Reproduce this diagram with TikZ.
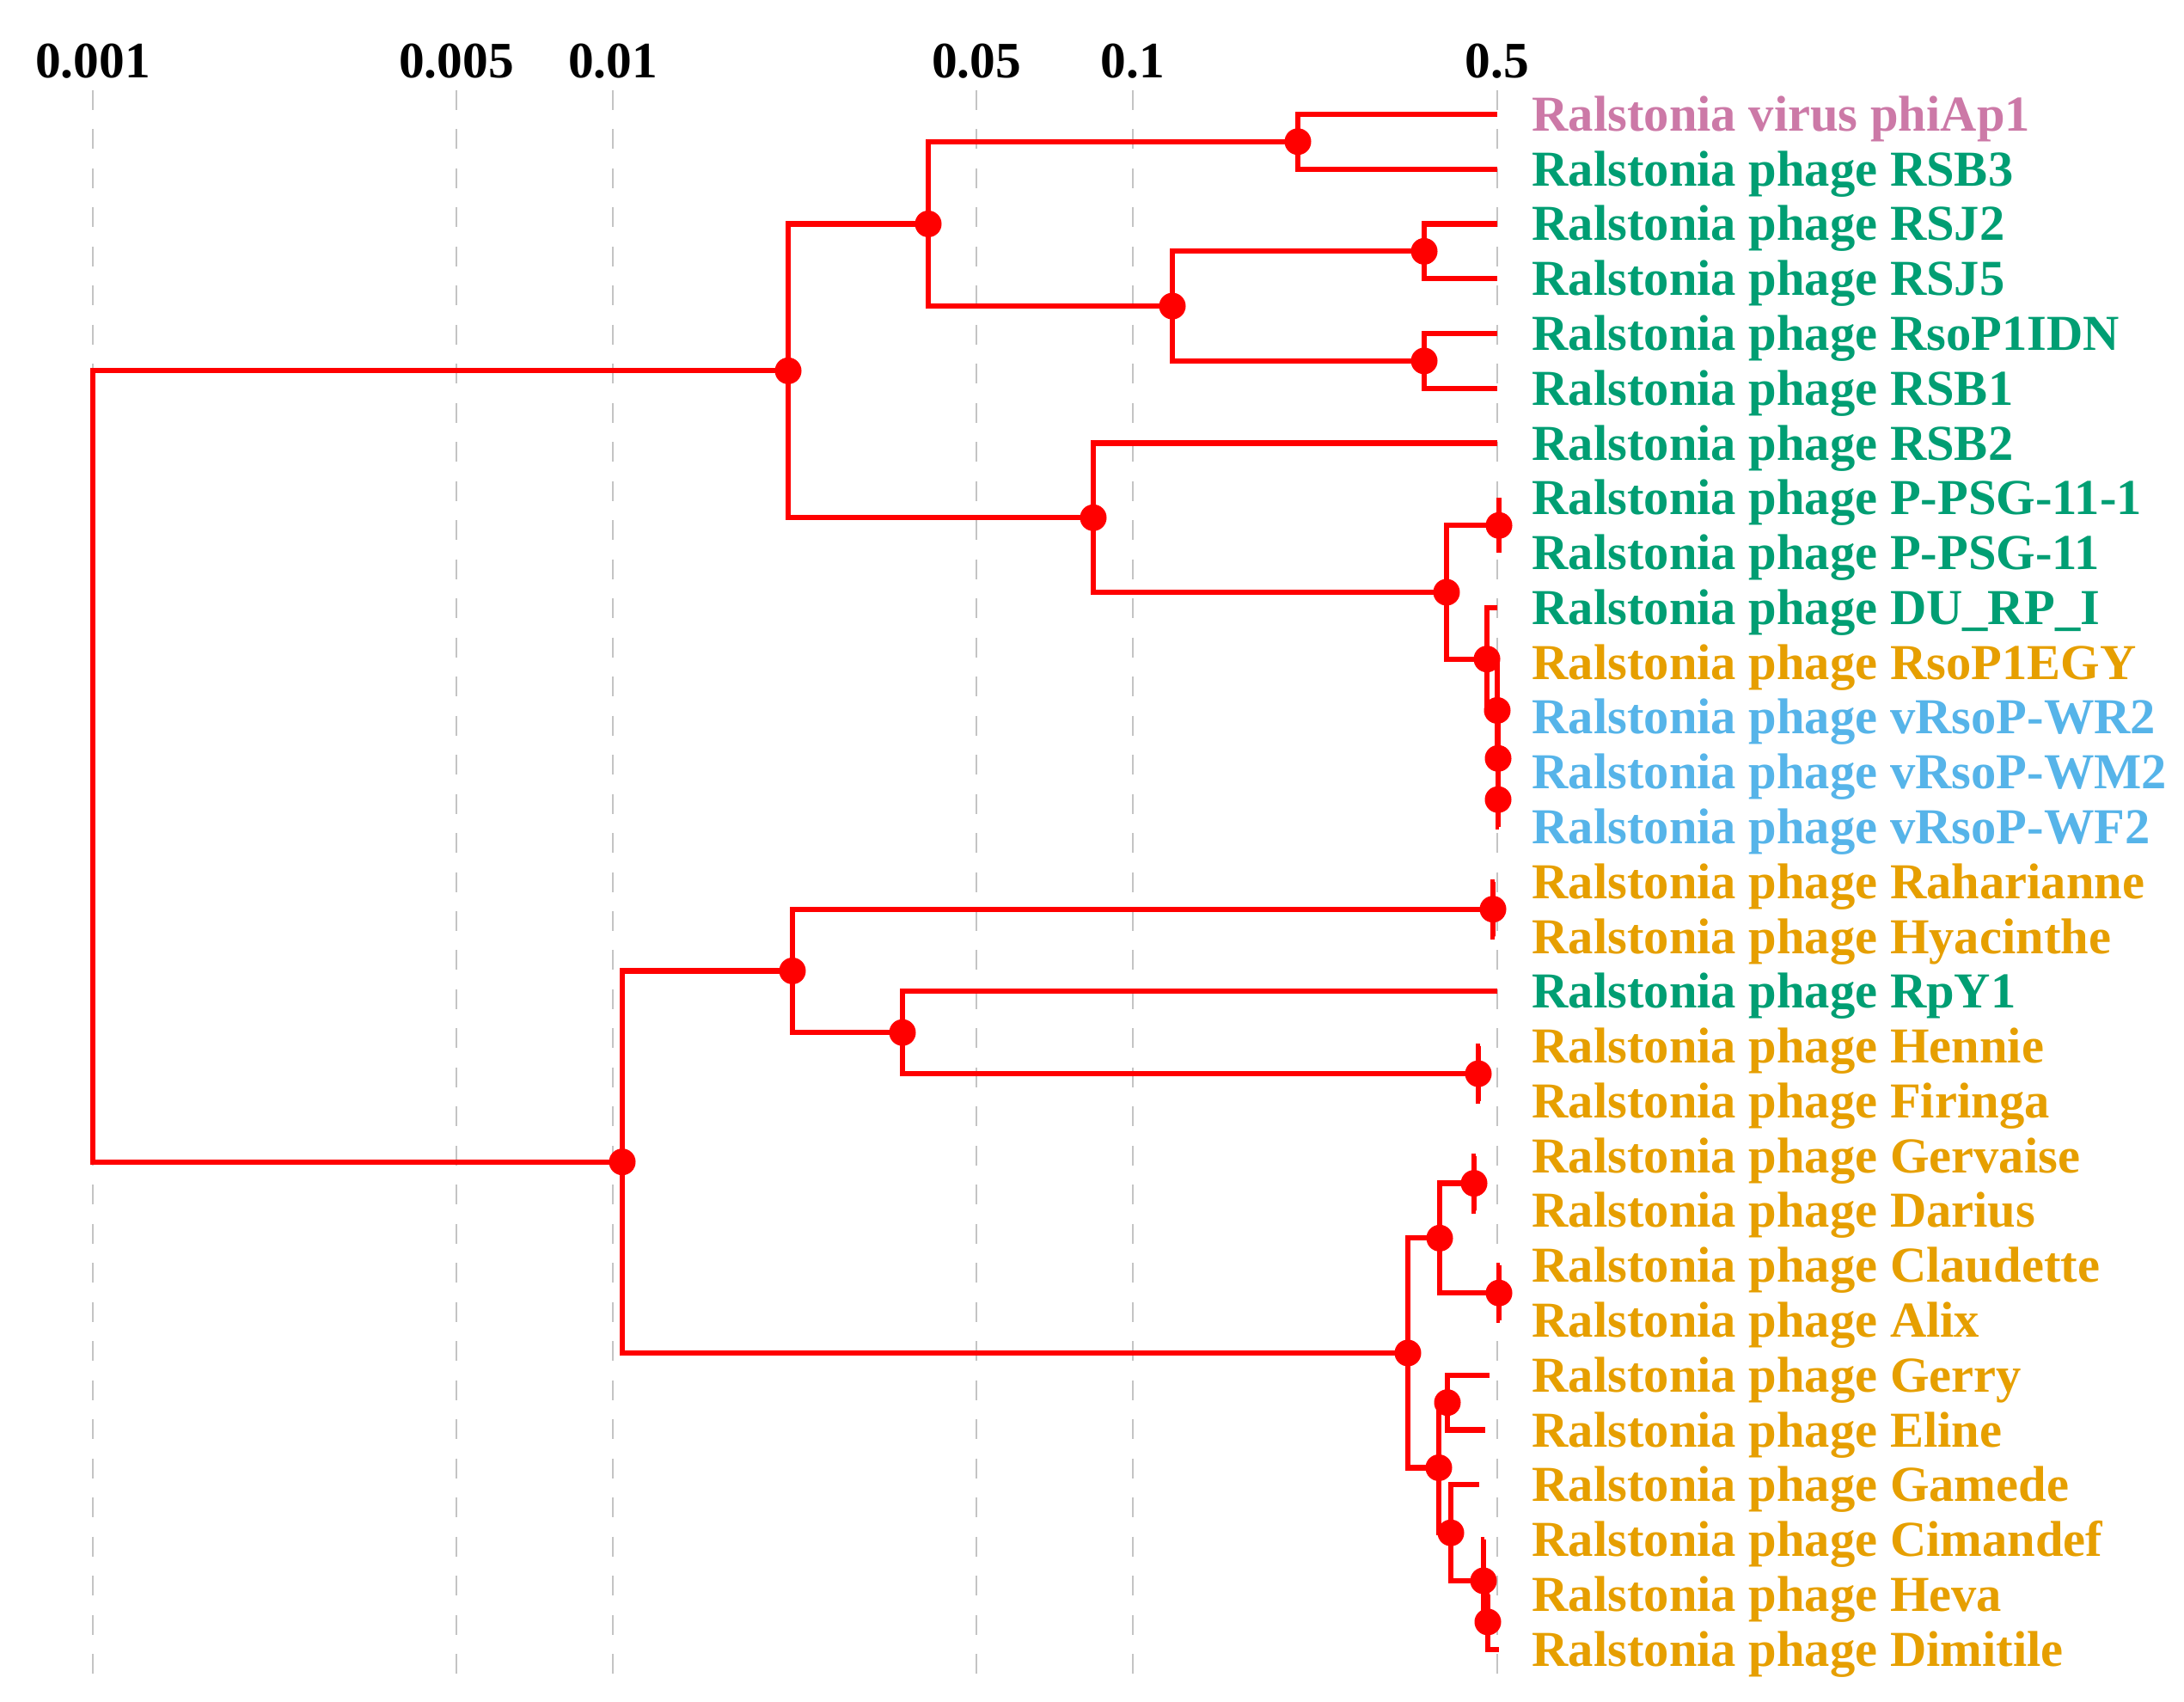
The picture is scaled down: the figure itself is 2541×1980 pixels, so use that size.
\documentclass[tikz,border=0pt]{standalone}
\usepackage{fontspec}
\setmainfont{Liberation Serif}
\definecolor{cpink}{HTML}{CC79A7}
\definecolor{cgreen}{HTML}{009E73}
\definecolor{corange}{HTML}{E69F00}
\definecolor{cblue}{HTML}{56B4E9}
\definecolor{cred}{HTML}{FF0000}
\definecolor{cgrid}{HTML}{C4C4C4}
\newcommand\leafat[5]{%
  \coordinate (#1) at (#2,#3);
  \node[lab,text=#4] (t#1) at (1782,#3+19.5) {#5};
}
\begin{document}
\begin{tikzpicture}[x=0.01cm,y=-0.01cm,
  lab/.style={anchor=base west,inner sep=0pt,font=\fontsize{16.65}{18}\selectfont\bfseries},
  axlab/.style={anchor=base,inner sep=0pt,font=\fontsize{16.9}{18}\selectfont\bfseries},
  gridline/.style={draw=cgrid,line width=0.025cm,dash pattern=on 0.23cm off 0.2245cm},
  branch/.style={draw=cred,line width=0.062cm},
  dot/.style={circle,fill=cred,inner sep=0pt,minimum size=0.31cm}]
\useasboundingbox (0,0) rectangle (2541,1980);
% axis
\foreach \xx/\lab/\nm in {108/0.001/a1,531/0.005/a2,713/0.01/a3,1136/0.05/a4,1318/0.1/a5,1742/0.5/a6}{
  \node[axlab] (\nm) at (\xx,91) {\lab};
  \draw[gridline] (\xx,105) -- (\xx,1947);
}
% leaves
\leafat{l1}{1742}{132.9}{cpink}{Ralstonia virus phiAp1}
\leafat{l2}{1742}{196.7}{cgreen}{Ralstonia phage RSB3}
\leafat{l3}{1742}{260.5}{cgreen}{Ralstonia phage RSJ2}
\leafat{l4}{1742}{324.2}{cgreen}{Ralstonia phage RSJ5}
\leafat{l5}{1742}{388.0}{cgreen}{Ralstonia phage RsoP1IDN}
\leafat{l6}{1742}{451.8}{cgreen}{Ralstonia phage RSB1}
\leafat{l7}{1742}{515.6}{cgreen}{Ralstonia phage RSB2}
\leafat{l8}{1744}{579.4}{cgreen}{Ralstonia phage P-PSG-11-1}
\leafat{l9}{1744}{643.1}{cgreen}{Ralstonia phage P-PSG-11}
\leafat{l10}{1742}{706.9}{cgreen}{Ralstonia phage DU\_RP\_I}
\leafat{l11}{1744}{770.7}{corange}{Ralstonia phage RsoP1EGY}
\leafat{l12}{1744}{834.5}{cblue}{Ralstonia phage vRsoP-WR2}
\leafat{l13}{1744}{898.3}{cblue}{Ralstonia phage vRsoP-WM2}
\leafat{l14}{1744}{962.0}{cblue}{Ralstonia phage vRsoP-WF2}
\leafat{l15}{1739}{1025.8}{corange}{Ralstonia phage Raharianne}
\leafat{l16}{1739}{1089.6}{corange}{Ralstonia phage Hyacinthe}
\leafat{l17}{1742}{1153.4}{cgreen}{Ralstonia phage RpY1}
\leafat{l18}{1722}{1217.2}{corange}{Ralstonia phage Hennie}
\leafat{l19}{1722}{1280.9}{corange}{Ralstonia phage Firinga}
\leafat{l20}{1717}{1344.7}{corange}{Ralstonia phage Gervaise}
\leafat{l21}{1717}{1408.5}{corange}{Ralstonia phage Darius}
\leafat{l22}{1745}{1472.3}{corange}{Ralstonia phage Claudette}
\leafat{l23}{1745}{1536.1}{corange}{Ralstonia phage Alix}
\leafat{l24}{1733}{1599.8}{corange}{Ralstonia phage Gerry}
\leafat{l25}{1728}{1663.6}{corange}{Ralstonia phage Eline}
\leafat{l26}{1721}{1727.4}{corange}{Ralstonia phage Gamede}
\leafat{l27}{1727}{1791.2}{corange}{Ralstonia phage Cimandef}
\leafat{l28}{1733}{1855.0}{corange}{Ralstonia phage Heva}
\leafat{l29}{1744}{1918.7}{corange}{Ralstonia phage Dimitile}
% internal nodes
\node[dot] (A11) at (1510,164.8) {};
\node[dot] (A121) at (1657,292.4) {};
\node[dot] (A122) at (1657,419.9) {};
\node[dot] (A12) at (1364,356.1) {};
\node[dot] (A1) at (1080,260.5) {};
\node[dot] (A221) at (1744,611.3) {};
\node[dot] (N4) at (1743,930.2) {};
\node[dot] (N3) at (1743,882.3) {};
\node[dot] (N2) at (1742,826.5) {};
\node[dot] (N1) at (1730,766.7) {};
\node[dot] (A22) at (1683,689.0) {};
\node[dot] (A2) at (1272,602.3) {};
\node[dot] (A) at (917,431.4) {};
\node[dot] (B11) at (1737,1057.7) {};
\node[dot] (B122) at (1720,1249.1) {};
\node[dot] (B12) at (1050,1201.2) {};
\node[dot] (B1) at (922,1129.5) {};
\node[dot] (B211) at (1715,1376.6) {};
\node[dot] (B212) at (1744,1504.2) {};
\node[dot] (B21) at (1675,1440.4) {};
\node[dot] (GE) at (1684,1631.7) {};
\node[dot] (E) at (1731,1886.9) {};
\node[dot] (D) at (1726,1839.0) {};
\node[dot] (C) at (1688,1783.2) {};
\node[dot] (B22) at (1674,1707.5) {};
\node[dot] (B2) at (1638,1574.0) {};
\node[dot] (B) at (724,1351.7) {};
\coordinate (R) at (108,891.6);
% branches
\draw[branch] (l1) -| (A11.center) |- (l2);
\draw[branch] (l3) -| (A121.center) |- (l4);
\draw[branch] (l5) -| (A122.center) |- (l6);
\draw[branch] (A121.center) -| (A12.center) |- (A122.center);
\draw[branch] (A11.center) -| (A1.center) |- (A12.center);
\draw[branch] (l8) -| (A221.center) |- (l9);
\draw[branch] (l13) -| (N4.center) |- (l14);
\draw[branch] (l12) -| (N3.center) |- (N4.center);
\draw[branch] (l11) -| (N2.center) |- (N3.center);
\draw[branch] (l10) -| (N1.center) |- (N2.center);
\draw[branch] (A221.center) -| (A22.center) |- (N1.center);
\draw[branch] (l7) -| (A2.center) |- (A22.center);
\draw[branch] (A1.center) -| (A.center) |- (A2.center);
\draw[branch] (l15) -| (B11.center) |- (l16);
\draw[branch] (l18) -| (B122.center) |- (l19);
\draw[branch] (l17) -| (B12.center) |- (B122.center);
\draw[branch] (B11.center) -| (B1.center) |- (B12.center);
\draw[branch] (l20) -| (B211.center) |- (l21);
\draw[branch] (l22) -| (B212.center) |- (l23);
\draw[branch] (B211.center) -| (B21.center) |- (B212.center);
\draw[branch] (l24) -| (GE.center) |- (l25);
\draw[branch] (l28) -| (E.center) |- (l29);
\draw[branch] (l27) -| (D.center) |- (E.center);
\draw[branch] (l26) -| (C.center) |- (D.center);
\draw[branch] (GE.center) -| (B22.center) |- (C.center);
\draw[branch] (B21.center) -| (B2.center) |- (B22.center);
\draw[branch] (B1.center) -| (B.center) |- (B2.center);
\draw[branch] (A.center) -| (R) |- (B.center);
\end{tikzpicture}
\end{document}
